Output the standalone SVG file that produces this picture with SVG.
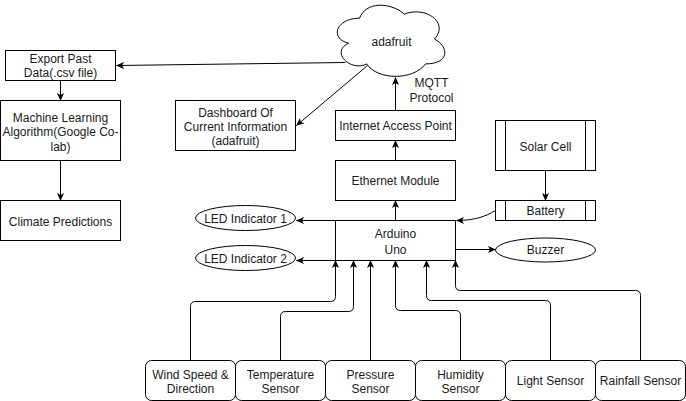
<svg xmlns="http://www.w3.org/2000/svg" width="686" height="401" viewBox="0 0 686 401">
<style>
.s{fill:#fff;stroke:#000;stroke-width:1}
.c{fill:none;stroke:#000;stroke-width:1}
.t{font-family:"Liberation Sans",Arial,sans-serif;font-size:12px;fill:#1a1a1a;text-anchor:middle}
</style>
<defs>
<marker id="a" viewBox="0 0 8 8" markerWidth="8" markerHeight="8" refX="7.5" refY="4" orient="auto" markerUnits="userSpaceOnUse">
<path d="M0,0.5 L8,4 L0,7.5 L2,4 Z" fill="#000"/>
</marker>
</defs>
<rect x="0" y="0" width="686" height="401" fill="#fff"/>
<g transform="translate(0.5,0.5)">
<g id="cloud">
<path class="s" d="M359,17.75 C335,17.75 329,38.5 348.2,42.65 C329,51.78 350.6,71.7 366.2,63.4 C377,80 413,80 425,63.4 C449,63.4 449,46.8 434,38.5 C449,21.9 425,5.3 404,13.6 C389,1.15 365,1.15 359,17.75 Z"/>
<text class="t" x="391" y="45">adafruit</text>
</g>
<g id="export">
<rect class="s" x="5" y="50" width="110" height="30"/>
<text class="t" x="60" y="62">Export Past</text>
<text class="t" x="60" y="76">Data(.csv file)</text>
</g>
<g id="ml">
<rect class="s" x="0" y="100" width="120" height="60"/>
<text class="t" x="60" y="121">Machine Learning</text>
<text class="t" x="60" y="135.5">Algorithm(Google Co-</text>
<text class="t" x="60" y="150">lab)</text>
</g>
<g id="climate">
<rect class="s" x="0" y="200" width="120" height="40"/>
<text class="t" x="60" y="225">Climate Predictions</text>
</g>
<g id="dashboard">
<rect class="s" x="175" y="100" width="120" height="50"/>
<text class="t" x="235" y="116">Dashboard Of</text>
<text class="t" x="235" y="130">Current Information</text>
<text class="t" x="235" y="144">(adafruit)</text>
</g>
<g id="iap">
<rect class="s" x="335" y="110" width="120" height="30"/>
<text class="t" x="395" y="129">Internet Access Point</text>
</g>
<g id="ethernet">
<rect class="s" x="335" y="160" width="120" height="40"/>
<text class="t" x="395" y="184">Ethernet Module</text>
</g>
<g id="arduino">
<rect class="s" x="335" y="220" width="120" height="40"/>
<text class="t" x="395" y="237.5">Arduino</text>
<text class="t" x="395" y="253">Uno</text>
</g>
<g id="solar">
<rect class="s" x="495" y="120" width="100" height="50"/>
<path class="c" d="M505,120 V170 M585,120 V170"/>
<text class="t" x="545" y="150">Solar Cell</text>
</g>
<g id="battery">
<rect class="s" x="495" y="200" width="100" height="20"/>
<path class="c" d="M505,200 V220 M585,200 V220"/>
<text class="t" x="545" y="214">Battery</text>
</g>
<g id="led1">
<ellipse class="s" cx="245" cy="217.5" rx="50" ry="12.5"/>
<text class="t" x="245" y="222">LED Indicator 1</text>
</g>
<g id="led2">
<ellipse class="s" cx="245" cy="257.5" rx="50" ry="12.5"/>
<text class="t" x="245" y="262">LED Indicator 2</text>
</g>
<g id="buzzer">
<ellipse class="s" cx="545" cy="249.5" rx="50" ry="12"/>
<text class="t" x="545" y="253.5">Buzzer</text>
</g>
<g id="wind">
<rect class="s" x="145" y="360" width="90" height="40" rx="6"/>
<text class="t" x="190" y="378">Wind Speed &amp;</text>
<text class="t" x="190" y="392">Direction</text>
</g>
<g id="temperature">
<rect class="s" x="235" y="360" width="90" height="40" rx="6"/>
<text class="t" x="280" y="378">Temperature</text>
<text class="t" x="280" y="392">Sensor</text>
</g>
<g id="pressure">
<rect class="s" x="325" y="360" width="90" height="40" rx="6"/>
<text class="t" x="370" y="378">Pressure</text>
<text class="t" x="370" y="392">Sensor</text>
</g>
<g id="humidity">
<rect class="s" x="415" y="360" width="90" height="40" rx="6"/>
<text class="t" x="460" y="378">Humidity</text>
<text class="t" x="460" y="392">Sensor</text>
</g>
<g id="light">
<rect class="s" x="505" y="360" width="90" height="40" rx="6"/>
<text class="t" x="550" y="384.5">Light Sensor</text>
</g>
<g id="rainfall">
<rect class="s" x="595" y="360" width="90" height="40" rx="6"/>
<text class="t" x="640" y="384.5">Rainfall Sensor</text>
</g>
<g id="connectors">
<path class="c" marker-end="url(#a)" d="M345,62 L116,65"/>
<path class="c" marker-end="url(#a)" d="M367,65 L296,125"/>
<path class="c" marker-end="url(#a)" d="M60,80 V100"/>
<path class="c" marker-end="url(#a)" d="M60,160 V200"/>
<path class="c" marker-end="url(#a)" d="M395,110 V77"/>
<path class="c" marker-end="url(#a)" d="M395,160 V140"/>
<path class="c" marker-end="url(#a)" d="M395,220 V200"/>
<path class="c" marker-end="url(#a)" d="M335,220 H296"/>
<path class="c" marker-end="url(#a)" d="M335,260 H296"/>
<path class="c" marker-end="url(#a)" d="M455,249 H495"/>
<path class="c" marker-end="url(#a)" d="M545,170 V200"/>
<path class="c" marker-end="url(#a)" d="M495,210 C485,216 474,220 456,220"/>
<path class="c" marker-end="url(#a)" d="M190,360 V306 Q190,301 195,301 H330 Q335,301 335,296 V260"/>
<path class="c" marker-end="url(#a)" d="M280,360 V316 Q280,311 285,311 H348 Q353,311 353,306 V260"/>
<path class="c" marker-end="url(#a)" d="M370,360 V260"/>
<path class="c" marker-end="url(#a)" d="M460,360 V315 Q460,310 455,310 H400 Q395,310 395,305 V260"/>
<path class="c" marker-end="url(#a)" d="M550,360 V305 Q550,300 545,300 H431 Q426,300 426,295 V260"/>
<path class="c" marker-end="url(#a)" d="M640,360 V295 Q640,290 635,290 H460 Q455,290 455,285 V260"/>
<text class="t" x="431" y="86">MQTT</text>
<text class="t" x="431" y="101">Protocol</text>
</g>
</g>
</svg>
